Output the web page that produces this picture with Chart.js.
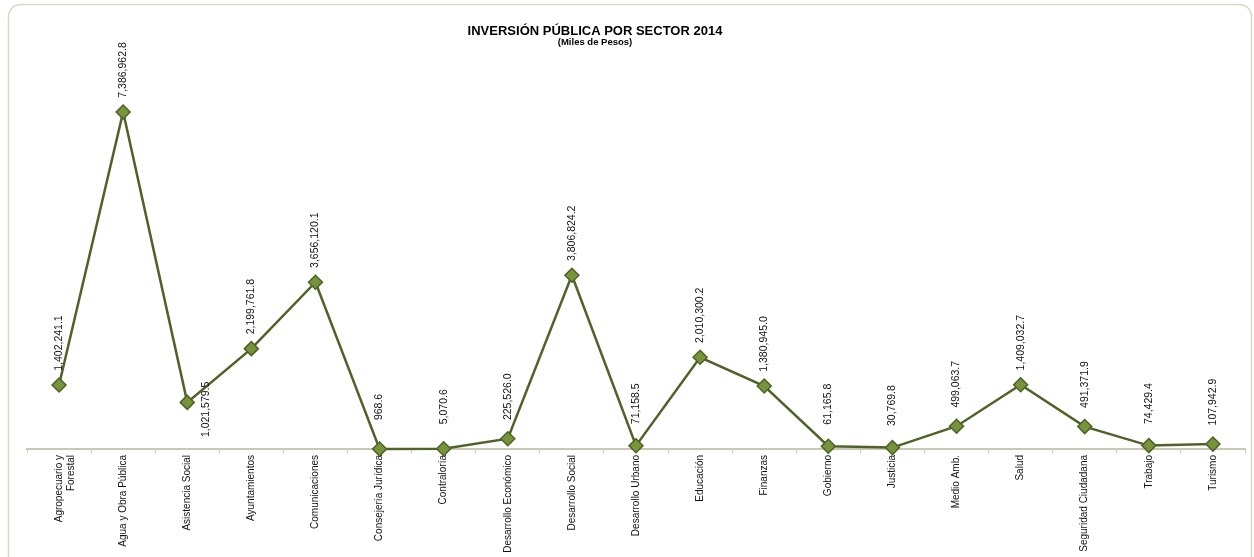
<!DOCTYPE html>
<html>
<head>
<meta charset="utf-8">
<script src="https://cdn.jsdelivr.net/npm/chart.js@4"></script>
<style>
    html, body { margin: 0; padding: 0; background: #fff; }
    #wrap { width: 1254px; height: 557px; position: relative; }
</style>
</head>
<body>
<div id="wrap"><canvas id="chart"></canvas></div>
<script>
const sectors = [
    ['Agropecuario y', 'Forestal'], 'Agua y Obra Pública', 'Asistencia Social', 'Ayuntamientos',
    'Comunicaciones', 'Consejería Jurídica', 'Contraloría', 'Desarrollo Económico',
    'Desarrollo Social', 'Desarrollo Urbano', 'Educación', 'Finanzas', 'Gobierno',
    'Justicia', 'Medio Amb.', 'Salud', 'Seguridad Ciudadana', 'Trabajo', 'Turismo'
];
const inversion = [
    1402241.1, 7386962.8, 1021579.5, 2199761.8, 3656120.1, 968.6, 5070.6, 225526.0,
    3806824.2, 71158.5, 2010300.2, 1380945.0, 61165.8, 30769.8, 499063.7, 1409032.7,
    491371.9, 74429.4, 107942.9
];
const chartTitle = 'INVERSIÓN PÚBLICA POR SECTOR 2014';
const chartSubtitle = '(Miles de Pesos)';

function fmt(v) {
    return v.toLocaleString('en-US', { minimumFractionDigits: 1, maximumFractionDigits: 1 });
}

/*////////////////////////////// frame + title //////////////////////////////////*/
const framePlugin = {
    id: 'frame',
    beforeDraw(chart) {
        const ctx = chart.ctx;
        ctx.save();
        ctx.strokeStyle = '#d8d8c8';
        ctx.lineWidth = 1.5;
        ctx.beginPath();
        ctx.roundRect(8.5, 4.5, 1243, 600, 12);
        ctx.stroke();
        ctx.restore();
    },
    afterDraw(chart) {
        const ctx = chart.ctx;
        ctx.save();
        ctx.fillStyle = '#000';
        ctx.textAlign = 'center';
        ctx.textBaseline = 'middle';
        ctx.font = 'bold 13px "Liberation Sans", Arial, sans-serif';
        ctx.fillText(chartTitle, 595, 31);
        ctx.font = 'bold 9.5px "Liberation Sans", Arial, sans-serif';
        ctx.fillText(chartSubtitle, 595, 42);
        ctx.restore();
    }
};

/*////////////////////////////// value labels //////////////////////////////////*/
const valueLabels = {
    id: 'valueLabels',
    afterDatasetsDraw(chart) {
        const ctx = chart.ctx;
        const meta = chart.getDatasetMeta(0);
        ctx.save();
        ctx.fillStyle = '#111';
        ctx.font = '10.5px "Liberation Sans", Arial, sans-serif';
        ctx.textAlign = 'center';
        ctx.textBaseline = 'middle';
        meta.data.forEach((pt, i) => {
            ctx.save();
            if (i === 2) {
                ctx.translate(pt.x + 19, pt.y + 7);
            } else {
                ctx.translate(pt.x, pt.y - 42);
            }
            ctx.rotate(-Math.PI / 2);
            ctx.fillText(fmt(inversion[i]), 0, 0);
            ctx.restore();
        });
        ctx.restore();
    }
};

new Chart(document.getElementById('chart'), {
    type: 'line',
    data: {
        labels: sectors,
        datasets: [{
            data: inversion,
            borderColor: '#4f6228',
            borderWidth: 2.5,
            pointStyle: 'rectRot',
            pointRadius: 7,
            pointHoverRadius: 7,
            pointBackgroundColor: '#77933c',
            pointBorderColor: '#4f6228',
            pointBorderWidth: 1.5,
            tension: 0,
            clip: false
        }]
    },
    options: {
        responsive: true,
        maintainAspectRatio: false,
        animation: false,
        layout: { padding: { left: 27, right: 9, top: 84, bottom: 0 } },
        plugins: {
            legend: { display: false },
            title: { display: false },
            tooltip: { enabled: false }
        },
        scales: {
            x: {
                offset: true,
                afterFit: (scale) => { scale.height = 108; },
                border: { color: '#c8c8b4', width: 2 },
                grid: {
                    offset: true,
                    drawOnChartArea: false,
                    drawTicks: true,
                    tickLength: 4,
                    color: '#d0d0c0'
                },
                ticks: {
                    autoSkip: false,
                    minRotation: 90,
                    maxRotation: 90,
                    padding: 2,
                    color: '#111',
                    font: { family: '"Liberation Sans", Arial, sans-serif', size: 10 }
                }
            },
            y: {
                display: false,
                min: 0,
                max: 8000000
            }
        }
    },
    plugins: [framePlugin, valueLabels]
});
</script>
</body>
</html>
